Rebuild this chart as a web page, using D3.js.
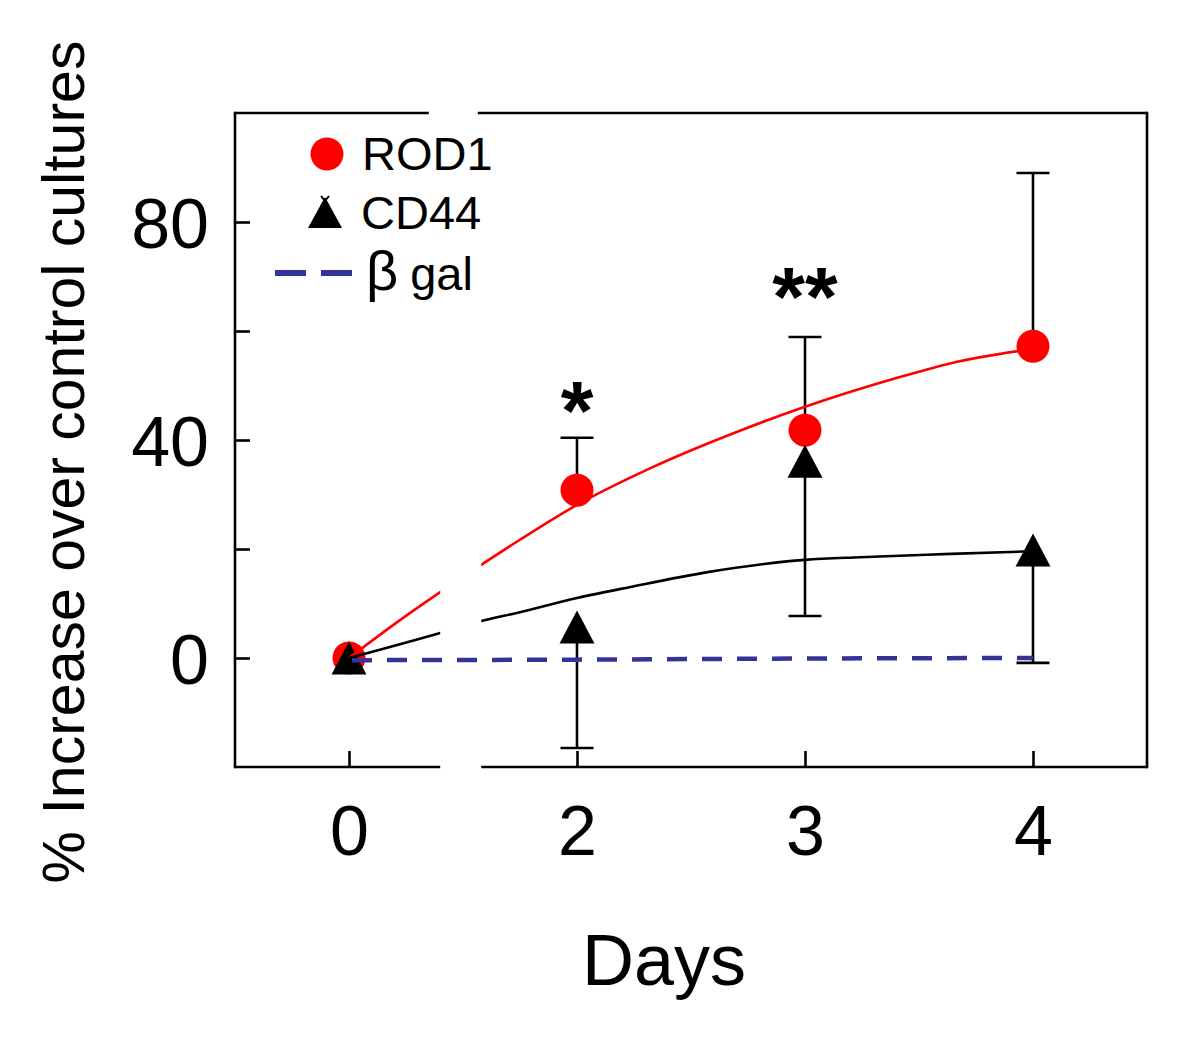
<!DOCTYPE html>
<html>
<head>
<meta charset="utf-8">
<script src="https://cdn.jsdelivr.net/npm/d3@7"></script>
<style>
  html, body { margin: 0; padding: 0; background: #fff; }
  svg { display: block; }
  text { font-family: "Liberation Sans", Arial, Helvetica, sans-serif; fill: #000; }
</style>
</head>
<body>
<svg id="chart" width="1200" height="1060"></svg>
<script>
// ---------------- data ----------------
const days = [0, 2, 3, 4];
const rod1 = [0, 30.8, 41.8, 57.2];
const rod1Upper = [null, 40.4, 58.9, 89.0];
const cd44 = [0, 5.7, 36.1, 19.8];
const cd44Lower = [null, -16.5, 7.7, -0.9];
const betaGal = [-0.4, -0.3, -0.1, 0];
const rod1FitDays = [0, 0.45, 0.8, 1.16, 1.5, 2, 2.32, 2.72, 3, 3.42, 3.64, 4];
const rod1FitValues = [0, 7.0, 12.1, 17.1, 21.7, 28.1, 34.8, 41.8, 46.1, 51.6, 54.1, 56.7];
const cd44FitDays = [0, 0.8, 1.16, 1.5, 2, 2.23, 2.58, 3, 3.24, 3.64, 4];
const cd44FitValues = [0, 4.6, 6.8, 8.4, 11.0, 13.0, 15.8, 18.0, 18.5, 19.1, 19.6];
const significance = ["", "*", "**", ""];
const xTickValues = [0, 2, 3, 4];
const yTickValues = [0, 20, 40, 60, 80];
const yTickLabels = [0, 40, 80];
const legendLabels = ["ROD1", "CD44"];

// ---------------- layout ----------------
const svg = d3.select("#chart");
const frame = { left: 235, right: 1147, top: 113, bottom: 767 };
// broken axis: days 0..2 occupy same width as one day afterwards
const x = d3.scaleLinear()
  .domain([-1, 0, 2, 3, 4, 4.5])
  .range([235, 349, 577, 805, 1033, 1147]);
const y = d3.scaleLinear().domain([-20, 100]).range([frame.bottom, frame.top]);

const RED = "#ff0000", BLUE = "#333399";
const lw = 2.6;

// break zones (in days)
const breakBottom = [0.8, 1.16];
const breakTop = [0.7, 1.13];

// clip for curves (gap in break)
const defs = svg.append("defs");
const clip = defs.append("clipPath").attr("id", "brk");
clip.append("rect").attr("x", frame.left).attr("y", frame.top)
  .attr("width", x(breakBottom[0]) - frame.left).attr("height", frame.bottom - frame.top);
clip.append("rect").attr("x", x(breakBottom[1])).attr("y", frame.top)
  .attr("width", frame.right - x(breakBottom[1])).attr("height", frame.bottom - frame.top);

// ---------------- frame ----------------
const fr = svg.append("g").attr("stroke", "#000").attr("stroke-width", lw).attr("fill", "none");
fr.append("line").attr("x1", frame.left).attr("x2", frame.left).attr("y1", frame.top - lw/2).attr("y2", frame.bottom + lw/2);
fr.append("line").attr("x1", frame.right).attr("x2", frame.right).attr("y1", frame.top - lw/2).attr("y2", frame.bottom + lw/2);
fr.append("line").attr("x1", frame.left).attr("x2", x(breakTop[0])).attr("y1", frame.top).attr("y2", frame.top);
fr.append("line").attr("x1", x(breakTop[1])).attr("x2", frame.right).attr("y1", frame.top).attr("y2", frame.top);
fr.append("line").attr("x1", frame.left).attr("x2", x(breakBottom[0])).attr("y1", frame.bottom).attr("y2", frame.bottom);
fr.append("line").attr("x1", x(breakBottom[1])).attr("x2", frame.right).attr("y1", frame.bottom).attr("y2", frame.bottom);

// x ticks (inward) and labels
const xAxis = d3.axisBottom(x).tickValues(xTickValues).tickSizeInner(-16).tickSizeOuter(0).tickPadding(38).tickFormat(d3.format("d"));
const gx = svg.append("g").attr("transform", `translate(0,${frame.bottom})`).call(xAxis);
gx.select(".domain").remove();
gx.selectAll(".tick line").attr("stroke", "#000").attr("stroke-width", lw);
gx.selectAll(".tick text").attr("font-size", 70).attr("dy", "0.71em")
  .style("font-family", "'Liberation Sans', Arial, sans-serif").attr("fill", "#000");

// y ticks (inward) and labels
const yAxis = d3.axisLeft(y).tickValues(yTickValues).tickSizeInner(-15).tickSizeOuter(0).tickPadding(26)
  .tickFormat(d => yTickLabels.includes(d) ? d : "");
const gy = svg.append("g").attr("transform", `translate(${frame.left},0)`).call(yAxis);
gy.select(".domain").remove();
gy.selectAll(".tick line").attr("stroke", "#000").attr("stroke-width", lw);
gy.selectAll(".tick text").attr("font-size", 70).attr("dy", "0.36em")
  .style("font-family", "'Liberation Sans', Arial, sans-serif").attr("fill", "#000");

// axis titles
svg.append("text").attr("x", 664).attr("y", 985).attr("text-anchor", "middle")
  .attr("font-size", 72).text("Days");
svg.append("text").attr("transform", "translate(84,462) rotate(-90)")
  .attr("text-anchor", "middle").attr("font-size", 59)
  .text("% Increase over control cultures");

// ---------------- error bars ----------------
const capW = 16.5;
const eb = svg.append("g").attr("stroke", "#000").attr("stroke-width", lw);
days.forEach((d, i) => {
  if (rod1Upper[i] != null) {
    eb.append("line").attr("x1", x(d)).attr("x2", x(d)).attr("y1", y(rod1[i])).attr("y2", y(rod1Upper[i]));
    eb.append("line").attr("x1", x(d) - capW).attr("x2", x(d) + capW).attr("y1", y(rod1Upper[i])).attr("y2", y(rod1Upper[i]));
  }
  if (cd44Lower[i] != null) {
    eb.append("line").attr("x1", x(d)).attr("x2", x(d)).attr("y1", y(cd44[i])).attr("y2", y(cd44Lower[i]));
    eb.append("line").attr("x1", x(d) - capW).attr("x2", x(d) + capW).attr("y1", y(cd44Lower[i])).attr("y2", y(cd44Lower[i]));
  }
});

// ---------------- markers ----------------
const triPath = (cx, cy, w, h) => `M${cx},${cy - h/2}L${cx + w/2},${cy + h/2}L${cx - w/2},${cy + h/2}Z`;
svg.append("g").selectAll("circle").data(days).join("circle")
  .attr("cx", d => x(d)).attr("cy", (d, i) => y(rod1[i])).attr("r", 16.5).attr("fill", RED);
svg.append("g").selectAll("path").data(days).join("path")
  .attr("d", (d, i) => triPath(x(d), y(cd44[i]), 35, 33)).attr("fill", "#000");

// ---------------- fitted curves ----------------
const curves = svg.append("g").attr("clip-path", "url(#brk)").attr("fill", "none");
const line = d3.line().x(p => x(p[0])).y(p => y(p[1])).curve(d3.curveMonotoneX);
curves.append("path").attr("d", line(rod1FitDays.map((d, i) => [d, rod1FitValues[i]])))
  .attr("stroke", RED).attr("stroke-width", 2.6);
curves.append("path").attr("d", line(cd44FitDays.map((d, i) => [d, cd44FitValues[i]])))
  .attr("stroke", "#000").attr("stroke-width", 2.6);
svg.append("path").attr("d", line(days.map((d, i) => [d, betaGal[i]])))
  .attr("fill", "none").attr("stroke", BLUE).attr("stroke-width", 4.5)
  .attr("stroke-dasharray", "20,15").attr("stroke-dashoffset", -3);

// ---------------- significance ----------------
svg.append("g").selectAll("text").data(days).join("text")
  .attr("x", d => x(d)).attr("y", (d, i) => i === 1 ? 440 : 326)
  .attr("text-anchor", "middle").attr("font-size", 84).attr("font-weight", "bold")
  .text((d, i) => significance[i]);

// ---------------- legend ----------------
const lg = svg.append("g");
lg.append("circle").attr("cx", 327).attr("cy", 154).attr("r", 16.5).attr("fill", RED);
lg.append("path").attr("d", triPath(325, 212.5, 34, 31)).attr("fill", "#000");
lg.append("path").attr("d", "M321,196L329,206M329,196L321,206").attr("stroke", "#000").attr("stroke-width", 2);
lg.append("line").attr("x1", 275).attr("x2", 352).attr("y1", 273).attr("y2", 273)
  .attr("stroke", BLUE).attr("stroke-width", 6).attr("stroke-dasharray", "31,15");
lg.append("text").attr("x", 362).attr("y", 170).attr("font-size", 47).text(legendLabels[0]);
lg.append("text").attr("x", 361).attr("y", 229).attr("font-size", 47).text(legendLabels[1]);
const bt = lg.append("text").attr("x", 366).attr("y", 290);
bt.append("tspan").attr("font-size", 56).text("β");
bt.append("tspan").attr("font-size", 47).attr("dx", 12).text("gal");
</script>
</body>
</html>
